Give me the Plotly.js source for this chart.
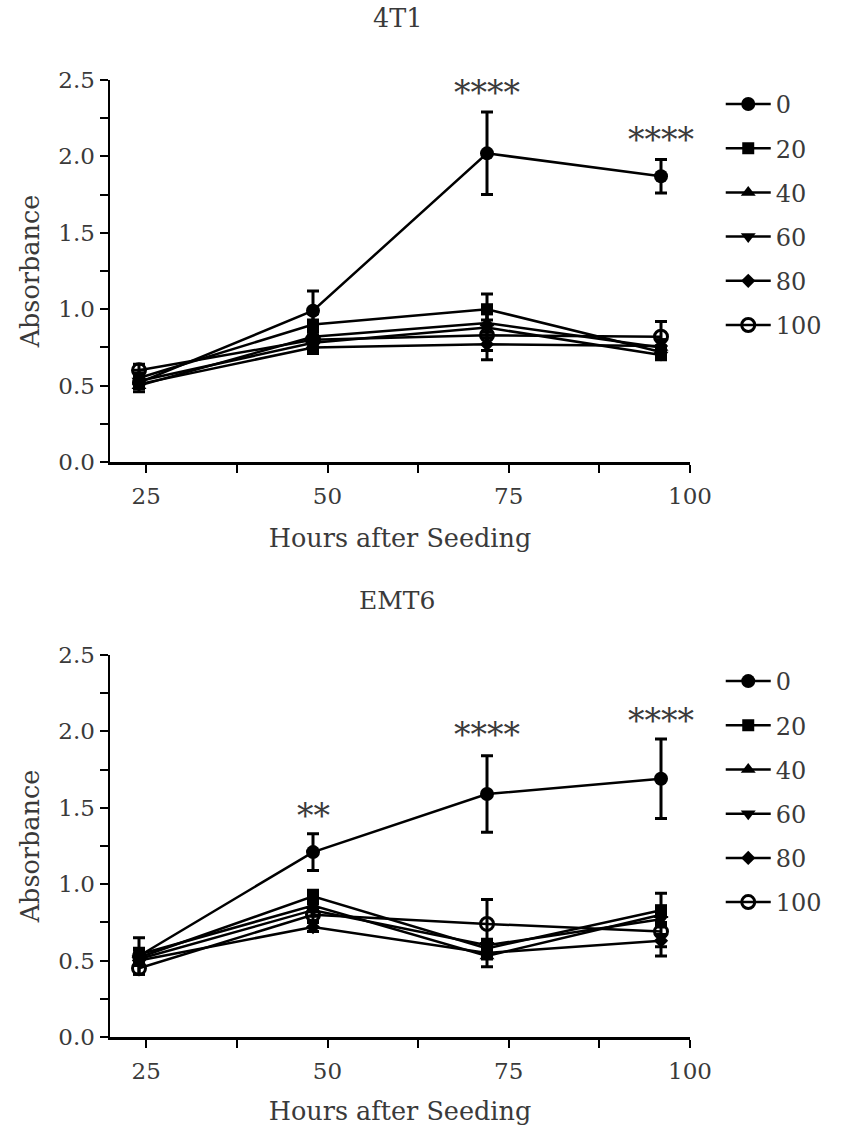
<!DOCTYPE html>
<html>
<head>
<meta charset="utf-8">
<script src="https://cdn.plot.ly/plotly-3.0.1.min.js"></script>
<style>html,body{margin:0;padding:0;background:#fff;}#chart{width:844px;height:1126px;}</style>
</head>
<body>
<div id="chart"></div>
<script>
// ---- data ----
const hours = [24, 48, 72, 96];
const groups = ["0", "20", "40", "60", "80", "100"];

// 4T1 (top panel) means and errors
const t1_0   = [0.52, 0.99, 2.02, 1.87];
const t1_20  = [0.55, 0.90, 1.00, 0.72];
const t1_40  = [0.50, 0.82, 0.91, 0.75];
const t1_60  = [0.53, 0.78, 0.88, 0.70];
const t1_80  = [0.51, 0.75, 0.77, 0.76];
const t1_100 = [0.60, 0.80, 0.83, 0.82];
const t1_err0   = [0.03, 0.13, 0.27, 0.11];
const t1_err20  = [0.05, 0.07, 0.10, 0.04];
const t1_err40  = [0.04, 0.05, 0.06, 0.05];
const t1_err60  = [0.04, 0.05, 0.05, 0.03];
const t1_err80  = [0.03, 0.04, 0.04, 0.04];
const t1_err100 = [0.04, 0.05, 0.16, 0.10];

// EMT6 (bottom panel) means and errors
const em_0   = [0.53, 1.21, 1.59, 1.69];
const em_20  = [0.52, 0.92, 0.58, 0.83];
const em_40  = [0.54, 0.86, 0.53, 0.80];
const em_60  = [0.51, 0.83, 0.60, 0.77];
const em_80  = [0.50, 0.72, 0.55, 0.63];
const em_100 = [0.45, 0.80, 0.74, 0.69];
const em_err0   = [0.12, 0.12, 0.25, 0.26];
const em_err20  = [0.05, 0.04, 0.05, 0.11];
const em_err40  = [0.04, 0.04, 0.07, 0.05];
const em_err60  = [0.04, 0.04, 0.04, 0.04];
const em_err80  = [0.03, 0.03, 0.04, 0.04];
const em_err100 = [0.04, 0.04, 0.16, 0.16];

// significance labels
const t1_sigX = [72, 96];
const t1_sigY = [2.42, 2.11];
const t1_sigText = ["****", "****"];
const em_sigX = [48, 72, 96];
const em_sigY = [1.45, 1.98, 2.07];
const em_sigText = ["**", "****", "****"];

const xTicks = [25, 50, 75, 100];
const panelTitles = ["4T1", "EMT6"];
const xTitle = "Hours after Seeding";
const yTitle = "Absorbance";

// ---- styles ----
const FONT = "DejaVu Serif, serif";
const TXT = "#3a3a3a";
const symbols = ["circle", "square", "triangle-up", "triangle-down", "diamond", "circle-open"];
const sizes = [14, 12, 13, 13, 11, 13];

const topY = [t1_0, t1_20, t1_40, t1_60, t1_80, t1_100];
const topE = [t1_err0, t1_err20, t1_err40, t1_err60, t1_err80, t1_err100];
const botY = [em_0, em_20, em_40, em_60, em_80, em_100];
const botE = [em_err0, em_err20, em_err40, em_err60, em_err80, em_err100];

const traces = [];
function addPanel(ys, es, xa, ya, leg, prefix) {
  ys.forEach((y, i) => {
    traces.push({
      type: "scatter", mode: "lines+markers",
      x: hours, y: y, name: groups[i],
      xaxis: xa, yaxis: ya, legend: leg,
      legendgroup: prefix + groups[i],
      line: {color: "#000", width: 2.5},
      marker: {symbol: symbols[i], size: sizes[i], color: "#000",
               line: {color: "#000", width: symbols[i] === "circle-open" ? 3 : 0}},
      error_y: {type: "data", array: es[i], visible: true, color: "#000", thickness: 3, width: 6},
      cliponaxis: false
    });
  });
}
addPanel(topY, topE, "x", "y", "legend", "a");
addPanel(botY, botE, "x2", "y2", "legend2", "b");

function xaxisDef(anchor) {
  return {
    anchor: anchor, domain: [0, 1], range: [20, 100],
    showline: true, linecolor: "#000", linewidth: 2.5,
    ticks: "outside", ticklen: 8, tickwidth: 2, tickcolor: "#000",
    tickmode: "array", tickvals: xTicks, ticktext: xTicks.map(String),
    minor: {dtick: 12.5, tick0: 0, ticks: "outside", ticklen: 8, tickwidth: 2, tickcolor: "#000"},
    showgrid: false, zeroline: false,
    ticklabelstandoff: 4,
    tickfont: {family: FONT, size: 23, color: TXT},
    title: {text: xTitle, font: {family: FONT, size: 25.5, color: TXT}, standoff: 21}
  };
}
function yaxisDef(anchor, dom) {
  return {
    anchor: anchor, domain: dom, range: [0, 2.5],
    showline: true, linecolor: "#000", linewidth: 2.5,
    ticks: "outside", ticklen: 8, tickwidth: 2, tickcolor: "#000",
    dtick: 0.5, tick0: 0, tickformat: ".1f",
    minor: {dtick: 0.25, tick0: 0, ticks: "outside", ticklen: 8, tickwidth: 2, tickcolor: "#000"},
    showgrid: false, zeroline: false,
    tickfont: {family: FONT, size: 23, color: TXT},
    title: {text: yTitle, font: {family: FONT, size: 25.5, color: TXT}, standoff: 12}
  };
}

const annotations = [];
t1_sigX.forEach((x, i) => annotations.push({x: x, y: t1_sigY[i], xref: "x", yref: "y", text: t1_sigText[i],
  showarrow: false, yanchor: "middle", font: {family: FONT, size: 33, color: TXT}}));
em_sigX.forEach((x, i) => annotations.push({x: x, y: em_sigY[i], xref: "x2", yref: "y2", text: em_sigText[i],
  showarrow: false, yanchor: "middle", font: {family: FONT, size: 33, color: TXT}}));
annotations.push({xref: "paper", yref: "paper", x: 0.495, y: 1.0648, yanchor: "middle", text: panelTitles[0], showarrow: false,
  font: {family: FONT, size: 25.5, color: TXT}});
annotations.push({xref: "paper", yref: "paper", x: 0.495, y: 0.4566, yanchor: "middle", text: panelTitles[1], showarrow: false,
  font: {family: FONT, size: 25, color: TXT}});

const legendBase = {
  x: 1.053, xanchor: "left", yanchor: "top",
  font: {family: FONT, size: 24, color: TXT},
  bgcolor: "rgba(0,0,0,0)", borderwidth: 0,
  itemwidth: 45,
  traceorder: "grouped", tracegroupgap: 10
};

const layout = {
  width: 844, height: 1126,
  margin: {l: 110, r: 154, t: 80, b: 89},
  paper_bgcolor: "#fff", plot_bgcolor: "#fff",
  showlegend: true,
  xaxis: xaxisDef("y"),
  yaxis: yaxisDef("x", [0.6008, 1]),
  xaxis2: xaxisDef("y2"),
  yaxis2: yaxisDef("x2", [0, 0.3992]),
  legend: Object.assign({}, legendBase, {y: 0.998}),
  legend2: Object.assign({}, legendBase, {y: 0.395}),
  annotations: annotations
};

Plotly.newPlot("chart", traces, layout, {staticPlot: true, displayModeBar: false});
</script>
</body>
</html>
